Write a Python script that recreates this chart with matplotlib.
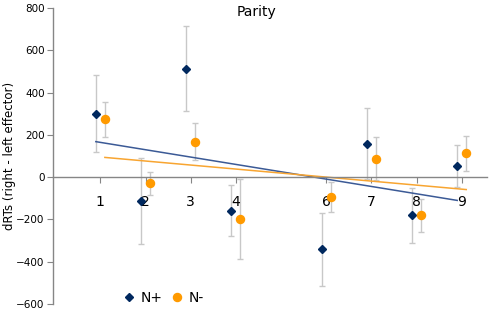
import matplotlib.pyplot as plt
import numpy as np

numbers = [1, 2, 3, 4, 6, 7, 8, 9]
n_plus = [300, -113, 514, -159, -342, 159, -180, 52]
n_plus_err = [182, 203, 201, 120, 171, 170, 130, 98]
n_minus = [273, -30, 167, -200, -93, 88, -180, 113]
n_minus_err = [83, 55, 88, 189, 70, 100, 78, 83]

fig = plt.figure(figsize=(4.9, 3.12), dpi=100)
ax = fig.add_axes([0.108, 0.026, 0.885, 0.948])

x = np.array(numbers, dtype=float)
series = [
    (x - 0.1, n_plus, n_plus_err, 'D', '#00285e', '#3b5a96', 'N+', 4.5),
    (x + 0.1, n_minus, n_minus_err, 'o', '#ff9a00', '#f8a531', 'N-', 5.8),
]
for xs, ys, err, marker, col, line_col, label, ms in series:
    ax.errorbar(xs, ys, yerr=err, fmt='none', ecolor='#c8c8c8', elinewidth=1,
                capsize=2, capthick=1, zorder=1)
    # linear trend line, like the spreadsheet one
    slope, icpt = np.polyfit(xs, ys, 1)
    ax.plot([xs[0], xs[-1]], [slope * xs[0] + icpt, slope * xs[-1] + icpt],
            color=line_col, lw=1.1, zorder=2)
    ax.plot(xs, ys, linestyle='none', marker=marker, color=col, ms=ms,
            label=label, zorder=3)

ax.set_xlim(-0.05, 9.55)
ax.set_ylim(-600, 800)
ax.set_yticks(range(-600, 801, 200))
ax.set_xticks(numbers)
ax.set_xticklabels([str(n) for n in numbers])

ax.spines['top'].set_visible(False)
ax.spines['right'].set_visible(False)
ax.spines['bottom'].set_position(('data', 0))
for s in ('left', 'bottom'):
    ax.spines[s].set_color('#868686')
    ax.spines[s].set_linewidth(1)
ax.tick_params(axis='y', labelsize=7.5, length=4, color='#868686', pad=2)
ax.tick_params(axis='x', labelsize=10, length=4, color='#868686', pad=9)

fig.text(256 / 490, 1 - 12 / 312, 'Parity', fontsize=10, ha='center', va='center')
fig.text(10 / 490, 0.5, 'dRTs (right - left effector)', fontsize=8.5, rotation=90,
         ha='center', va='center')

ax.legend(loc='center left', bbox_to_anchor=(0.235, 0.045), bbox_transform=fig.transFigure,
          ncol=2, frameon=False, fontsize=10, handletextpad=0.3, columnspacing=0.6,
          handlelength=1.0, borderpad=0)

fig.savefig('out.png', dpi=100)
